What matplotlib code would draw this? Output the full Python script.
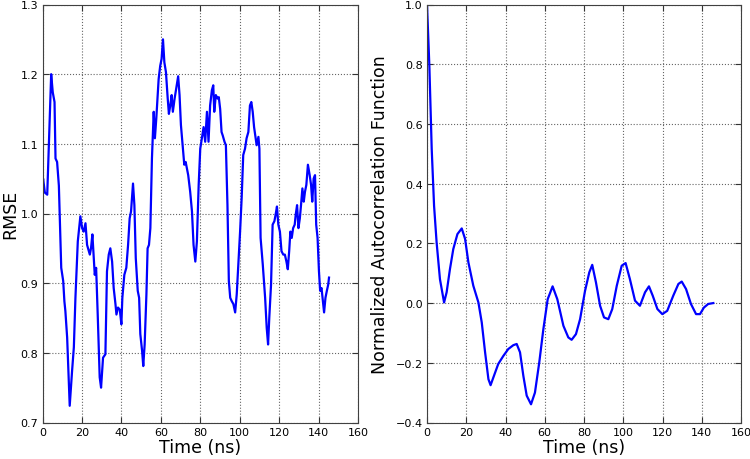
import matplotlib
matplotlib.use("Agg")
import matplotlib.pyplot as plt

# RMSE trace (left)
rmse_t = [0.0, 0.3, 1.2, 2.4, 3.2, 4.4, 5.2, 6.1, 6.6, 7.4, 8.3, 9.5, 10.5, 11.1, 11.6, 12.5,
          13.8, 15.0, 15.9, 16.7, 17.9, 19.2, 20.1, 20.9, 21.8, 22.6, 24.0, 24.6, 25.3, 26.0,
          26.5, 27.2, 28.0, 29.0, 29.7, 30.7, 31.9, 32.7, 33.6, 34.4, 35.3, 36.1, 37.0, 37.5,
          38.3, 39.2, 40.0, 40.5, 41.5, 42.5, 43.4, 44.2, 44.9, 45.9, 46.6, 47.3, 48.3, 49.0,
          49.6, 50.5, 51.1, 51.8, 52.7, 53.3, 54.0, 54.7, 55.5, 56.4, 57.0, 57.7, 58.9, 59.7,
          60.4, 61.1, 61.8, 62.6, 63.5, 64.1, 64.8, 65.5, 66.1, 67.0, 67.8, 68.8, 69.5, 70.2,
          71.2, 71.9, 72.6, 73.2, 73.9, 74.9, 75.8, 76.6, 77.5, 78.3, 79.2, 80.0, 80.8, 81.7,
          82.5, 83.4, 84.2, 85.0, 85.9, 86.6, 87.1, 87.9, 88.8, 89.4, 90.1, 90.8, 91.4, 92.3,
          93.0, 93.8, 94.5, 95.2, 96.0, 96.8, 97.7, 98.5, 99.3, 100.2, 101.0, 101.8, 102.7,
          103.5, 104.4, 105.2, 105.9, 106.6, 107.3, 108.1, 108.6, 109.5, 110.0, 110.6, 111.7,
          112.9, 113.7, 114.4, 115.0, 115.9, 116.7, 117.6, 118.2, 118.9, 119.6, 120.4, 121.2,
          122.1, 122.9, 123.7, 124.4, 125.1, 125.7, 126.4, 127.1, 127.9, 128.4, 129.1, 129.8,
          130.5, 131.1, 131.8, 132.5, 133.1, 133.8, 134.6, 135.5, 136.2, 136.8, 137.5, 138.2,
          138.8, 139.5, 140.2, 140.8, 141.5, 142.2, 142.8, 143.5, 144.2, 144.9, 145.3]
rmse_v = [1.04, 1.05, 1.03, 1.027, 1.098, 1.2, 1.174, 1.16, 1.079, 1.074, 1.04, 0.922, 0.903,
          0.874, 0.86, 0.822, 0.724, 0.774, 0.808, 0.879, 0.96, 0.996, 0.979, 0.974, 0.986,
          0.955, 0.941, 0.95, 0.97, 0.936, 0.912, 0.922, 0.855, 0.765, 0.75, 0.793, 0.798,
          0.917, 0.941, 0.95, 0.931, 0.893, 0.87, 0.855, 0.865, 0.862, 0.841, 0.879, 0.912,
          0.922, 0.955, 0.993, 1.003, 1.043, 1.012, 0.936, 0.889, 0.879, 0.827, 0.803, 0.781,
          0.812, 0.884, 0.95, 0.955, 0.979, 1.079, 1.146, 1.108, 1.136, 1.193, 1.212, 1.222,
          1.25, 1.217, 1.203, 1.165, 1.143, 1.155, 1.17, 1.146, 1.165, 1.179, 1.197, 1.17,
          1.127, 1.093, 1.07, 1.074, 1.065, 1.055, 1.031, 1.003, 0.955, 0.931, 0.96, 1.041,
          1.093, 1.108, 1.124, 1.103, 1.146, 1.103, 1.155, 1.177, 1.184, 1.146, 1.17, 1.165,
          1.167, 1.15, 1.117, 1.112, 1.103, 1.098, 1.012, 0.903, 0.879, 0.874, 0.87, 0.858,
          0.884, 0.927, 0.974, 1.022, 1.084, 1.093, 1.108, 1.117, 1.155, 1.16, 1.146, 1.124,
          1.108, 1.098, 1.11, 1.093, 0.965, 0.927, 0.879, 0.836, 0.812, 0.85, 0.898, 0.984,
          0.989, 0.998, 1.01, 0.984, 0.974, 0.946, 0.941, 0.941, 0.931, 0.92, 0.946, 0.974,
          0.965, 0.979, 0.984, 0.998, 1.012, 0.979, 0.993, 1.012, 1.036, 1.017, 1.031, 1.041,
          1.07, 1.055, 1.041, 1.017, 1.05, 1.055, 0.984, 0.965, 0.917, 0.889, 0.893, 0.874,
          0.858, 0.879, 0.889, 0.898, 0.908]

# Autocorrelation (right)
acf_t = [0.0, 1.2, 2.4, 3.6, 4.9, 6.6, 8.7, 10.0, 11.7, 13.4, 15.5, 17.7, 19.4, 21.1, 23.6,
         26.2, 27.9, 29.6, 31.3, 32.4, 34.1, 36.3, 38.9, 41.4, 44.0, 45.7, 47.4, 49.1, 50.8,
         53.0, 55.0, 57.2, 59.3, 61.5, 64.0, 66.4, 69.5, 72.0, 73.7, 75.9, 78.0, 80.5, 82.7,
         84.2, 86.1, 88.2, 90.2, 92.4, 94.4, 96.7, 99.2, 101.2, 103.4, 106.0, 108.5, 111.1,
         113.1, 115.0, 117.4, 119.9, 122.4, 125.5, 128.1, 129.8, 132.0, 134.5, 137.1, 139.1,
         141.1, 143.3, 145.9]
acf_v = [1.0, 0.795, 0.516, 0.326, 0.203, 0.08, 0.002, 0.036, 0.114, 0.181, 0.231, 0.25,
         0.215, 0.136, 0.058, 0.002, -0.065, -0.165, -0.255, -0.275, -0.244, -0.204, -0.177,
         -0.154, -0.141, -0.137, -0.165, -0.244, -0.31, -0.339, -0.3, -0.199, -0.087, 0.013,
         0.056, 0.013, -0.076, -0.115, -0.123, -0.104, -0.054, 0.04, 0.103, 0.128, 0.069,
         -0.009, -0.048, -0.054, -0.02, 0.058, 0.125, 0.134, 0.08, 0.008, -0.009, 0.036, 0.056,
         0.025, -0.02, -0.037, -0.026, 0.025, 0.064, 0.072, 0.047, -0.003, -0.037, -0.037,
         -0.015, -0.003, 0.0]

x_ticks = [0, 20, 40, 60, 80, 100, 120, 140, 160]
rmse_ticks = [0.7, 0.8, 0.9, 1.0, 1.1, 1.2, 1.3]
acf_ticks = [-0.4, -0.2, 0.0, 0.2, 0.4, 0.6, 0.8, 1.0]

plt.rcParams['font.family'] = ['DejaVu Sans']

fig = plt.figure(figsize=(7.5, 4.6), dpi=100)
ax1 = fig.add_axes([42.5 / 750, 1 - 423.5 / 460, (358 - 42.5) / 750, (423.5 - 5.5) / 460])
ax2 = fig.add_axes([427 / 750, 1 - 423.5 / 460, (741 - 427) / 750, (423.5 - 5.5) / 460])

ax1.plot(rmse_t, rmse_v, color='#0000ff', lw=1.6)
ax1.set_xlim(0, 160)
ax1.set_ylim(0.7, 1.3)
ax1.set_xticks(x_ticks)
ax1.set_yticks(rmse_ticks)
ax1.set_yticklabels([f'{v:.1f}' for v in rmse_ticks])
ax1.set_ylabel('RMSE', fontsize=12.5, labelpad=1)
ax1.set_xlabel('Time (ns)', fontsize=12.5, labelpad=1)

ax2.plot(acf_t, acf_v, color='#0000ff', lw=1.6)
ax2.set_xlim(0, 160)
ax2.set_ylim(-0.4, 1.0)
ax2.set_xticks(x_ticks)
ax2.set_yticks(acf_ticks)
ax2.set_yticklabels([f'{v:.1f}'.replace('-', '\u2212') for v in acf_ticks])
ax2.set_ylabel('Normalized Autocorrelation Function', fontsize=12.5, labelpad=5)
ax2.set_xlabel('Time (ns)', fontsize=12.5, labelpad=1)

for ax in (ax1, ax2):
    ax.grid(True, linestyle=':', color='0.4', linewidth=0.8)
    ax.tick_params(direction='in', top=True, right=True, labelsize=8, length=4,
                   pad=3, color='0.2')
    for s in ax.spines.values():
        s.set_color('0.25')

fig.savefig('out.png', dpi=100)
